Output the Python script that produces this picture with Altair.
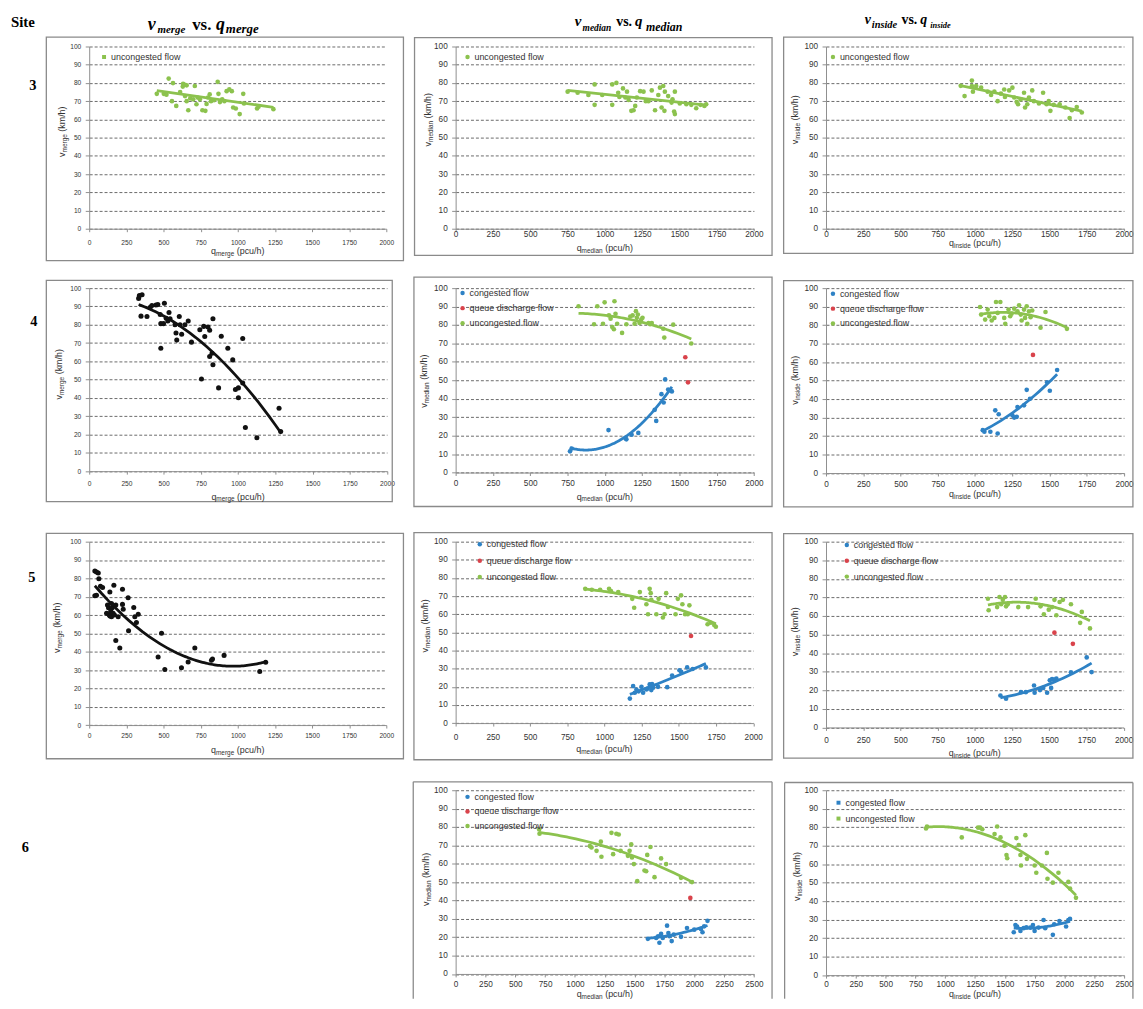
import altair as alt
import pandas as pd

# ---------------------------------------------------------------- data: (q [pcu/h], v [km/h])
S3_MERGE_UNCONGESTED = [(455,74),(502,74),(520,73.5),(535,82.4),(557,70),(564,79.9),(586,67.4),(612,75),(630,78),(632,79.5),(645,79),(656,78.7),(645,72.8),(656,70),(667,65),(680,71.5),(700,71),(711,78.3),(722,68.3),(730,72),(745,71),(762,65),(782,64.7),(790,68.5),(800,72),(811,73.7),(820,70),(840,70.5),(865,80.6),(870,74),(880,69.5),(895,71),(910,70),(925,75.5),(943,76.5),(960,75.5),(969,66.5),(987,66),(1013,62.9),(1037,74),(1042,68.7),(1130,66),(1140,67),(1240,65.6)]
S3_MEDIAN_UNCONGESTED = [(751,75.2),(818,74.6),(890,73.4),(932,79.2),(932,68),(983,73.4),(1050,79.2),(1050,68),(1078,80),(1090,74.6),(1098,72.3),(1122,77),(1138,72),(1149,75.2),(1160,70.7),(1178,64.7),(1193,65),(1204,67.4),(1215,72),(1237,75.5),(1260,75.2),(1275,70),(1293,70),(1315,75.9),(1337,65),(1359,73.4),(1370,77.4),(1392,78.3),(1403,75.2),(1381,66.5),(1400,64.7),(1425,72.8),(1448,69.2),(1454,71),(1470,75.2),(1465,64.3),(1470,62.9),(1503,68.7),(1547,68.3),(1580,68),(1613,66.1),(1642,68),(1668,67.4),(1680,68.3)]
S3_INSIDE_UNCONGESTED = [(904,78.4),(930,72.8),(979,81.3),(979,78.3),(986,75.2),(1008,78.3),(1041,77.4),(1085,75.2),(1108,73.4),(1130,75.2),(1152,70),(1174,74.1),(1196,76.4),(1201,72.3),(1229,75.9),(1251,77.4),(1263,72),(1280,69.6),(1289,68.3),(1307,71),(1329,74.6),(1336,66.5),(1351,68.3),(1362,72),(1384,75.9),(1395,70),(1429,68.7),(1457,74.6),(1480,68.3),(1495,70),(1506,64.7),(1528,68),(1568,68.3),(1606,66.5),(1635,60.7),(1650,65),(1683,66.8),(1717,63.8)]

S4_MERGE_ALL = [(332,94.4),(337,95.9),(355,96.4),(348,84.7),(388,84.5),(410,89.6),(421,90.5),(448,90.8),(461,91),(477,85.6),(481,80.6),(481,67.1),(499,80.6),(505,91.7),(517,83.6),(528,82),(536,86.7),(543,83.3),(576,80),(583,75.5),(588,71.6),(605,84.5),(610,80),(621,74.8),(643,80),(665,82),(687,70.5),(743,77.3),(754,50.4),(769,79.1),(776,73.6),(798,78.8),(809,77),(809,62.6),(825,64.4),(831,83.3),(831,58.1),(869,45.5),(887,73.7),(931,67.1),(964,60.8),(982,44.6),(1002,45.5),(1002,40.1),(1031,72.5),(1031,48.2),(1049,23.9),(1126,18.2),(1275,34.4),(1286,21.6)]
S4_MEDIAN_CONGESTED = [(767,11.5),(778,13),(1025,23),(1140,18.5),(1145,18),(1180,20.5),(1225,21.5),(1335,34),(1345,28),(1380,42.5),(1395,38),(1405,50.5),(1425,45),(1440,44.5),(1450,44)]
S4_MEDIAN_QUEUE = [(1540,62.5),(1558,48.9)]
S4_MEDIAN_UNCONGESTED = [(824,90.2),(928,80.4),(950,90.2),(988,80.7),(999,92.3),(1028,85.2),(1039,83.4),(1050,78.9),(1061,77.7),(1065,92.9),(1072,86.1),(1083,80.7),(1116,75.7),(1145,80.4),(1171,84.6),(1187,85.2),(1200,80.7),(1209,87.5),(1215,83.9),(1222,85.7),(1233,81.1),(1244,82.9),(1253,83.9),(1293,81.1),(1304,80.4),(1315,81.1),(1392,78),(1399,73.2),(1459,80.2),(1580,70)]
S4_INSIDE_CONGESTED = [(1052,23.2),(1063,22.3),(1103,22.3),(1136,33.9),(1152,21.4),(1159,31.8),(1251,31.2),(1263,30),(1280,30.4),(1285,35.7),(1329,36.6),(1347,45),(1369,40.2),(1484,49.1),(1502,44.5),(1551,55.7)]
S4_INSIDE_QUEUE = [(1389,63.9)]
S4_INSIDE_UNCONGESTED = [(1034,89.8),(1041,85.7),(1068,83),(1085,88.4),(1096,84.8),(1112,82.5),(1130,83.9),(1141,92.5),(1170,92.5),(1152,86.6),(1196,83.9),(1203,80.7),(1225,88.4),(1236,84.8),(1245,86.1),(1263,88.9),(1285,87.5),(1296,90.7),(1307,85.7),(1313,82.5),(1329,88.4),(1336,83.9),(1347,90.2),(1351,80.7),(1362,87.5),(1373,84.3),(1384,87.9),(1440,78.6),(1473,87.1),(1617,78)]

S5_MERGE_ALL = [(38,84),(49,83.4),(38,70.5),(49,70.8),(61,82.9),(65,79.8),(76,75.7),(90,75),(117,60.9),(123,65.4),(130,64),(135,60),(139,72.6),(140,59.5),(145,62),(150,66.3),(150,59.1),(155,64),(161,60.9),(166,76.2),(170,60),(179,65.4),(179,46.1),(195,59.1),(206,42),(224,74.1),(224,65.8),(229,63.1),(262,69.4),(265,51.4),(300,64.1),(307,59.1),(318,55.9),(330,60.4),(464,37.1),(487,50.1),(509,30.3),(621,31.2),(666,34.4),(711,42),(823,35.3),(830,36),(908,38),(1148,29.2),(1188,34.2)]
S5_MEDIAN_CONGESTED = [(1171,13.5),(1193,20.4),(1204,16.7),(1215,18.5),(1230,17.5),(1249,20),(1260,16.7),(1282,18.5),(1290,19),(1304,21.3),(1315,18.2),(1320,21.5),(1327,19.5),(1360,20),(1422,19.8),(1455,26.2),(1504,29.1),(1516,28.2),(1556,30.7),(1593,29.8),(1682,30.7)]
S5_MEDIAN_QUEUE = [(1582,48)]
S5_MEDIAN_UNCONGESTED = [(871,74),(915,73.5),(971,73.5),(1031,74),(1044,72.7),(1093,72.2),(1187,68.5),(1200,63.6),(1238,72.2),(1282,65.5),(1293,60),(1304,74),(1311,71.6),(1315,68),(1349,60),(1364,68.5),(1393,58.2),(1404,60),(1415,71.6),(1427,64),(1478,60),(1493,68.5),(1515,70.4),(1524,65.5),(1542,60),(1560,60),(1571,64.9),(1693,54.5),(1715,55.3),(1738,54),(1749,53.1)]
S5_INSIDE_CONGESTED = [(1172,17.2),(1210,15.5),(1310,19),(1343,19),(1398,22.6),(1402,18.7),(1438,20.1),(1460,21.3),(1486,18.7),(1504,25.4),(1513,21.3),(1519,26.1),(1535,25.8),(1548,26.3),(1646,29.7),(1752,37.7),(1785,29.8)]
S5_INSIDE_QUEUE = [(1535,51),(1659,45)]
S5_INSIDE_UNCONGESTED = [(1088,69.3),(1093,63.1),(1150,64.8),(1166,70.2),(1177,66.3),(1188,68.7),(1203,70.2),(1210,65.2),(1221,66.3),(1292,64.8),(1358,64.8),(1409,69.3),(1442,65.2),(1464,60.9),(1497,63.4),(1519,64.8),(1535,68.7),(1548,60.4),(1570,67.5),(1592,68.7),(1646,66.3),(1708,56.3),(1719,62.2),(1774,53.3)]

S6_MEDIAN_CONGESTED = [(1611,19.1),(1681,19.6),(1697,20.5),(1708,17),(1722,21.8),(1736,19.6),(1772,26.3),(1783,22.3),(1792,20.5),(1811,17.9),(1828,21.4),(1889,20.2),(1939,25),(2000,24.1),(2056,24.5),(2069,22.7),(2083,25.9),(2111,28.9)]
S6_MEDIAN_QUEUE = [(1967,41.4)]
S6_MEDIAN_UNCONGESTED = [(700,78.6),(703,76.3),(1125,69.6),(1139,68.8),(1181,67),(1217,72),(1222,63.8),(1306,76.8),(1320,65.2),(1347,76.3),(1367,75.9),(1383,67),(1444,64.3),(1458,67),(1472,70.5),(1478,63.4),(1494,59.8),(1522,50.5),(1583,56.3),(1597,55.9),(1606,64.8),(1633,69.1),(1667,52.7),(1722,62.9),(1764,59.8),(1889,52.3),(1981,50)]
S6_INSIDE_CONGESTED = [(1575,23.2),(1589,27.1),(1603,26.3),(1631,23.9),(1658,25.4),(1681,25.9),(1714,25.7),(1736,27.1),(1750,23.9),(1783,25.7),(1825,29.8),(1839,25.4),(1903,21.8),(1914,27.5),(1958,29.3),(2014,26.3),(2033,29.8),(2047,30.4)]
S6_INSIDE_UNCONGESTED = [(839,79.3),(847,80.4),(1139,74.5),(1275,79.8),(1292,79.8),(1311,78.9),(1414,76.3),(1436,80.4),(1464,74.5),(1497,70),(1514,65),(1520,63.2),(1597,74.1),(1617,70.4),(1631,65),(1636,59.3),(1672,75.7),(1686,62.9),(1750,59.3),(1764,55.4),(1811,59.3),(1853,66.1),(1858,52.1),(1903,50),(1950,55.4),(2033,50.4),(2047,46.8),(2097,41.8)]

CON, QD, UNC = "congested flow", "queue discharge flow", "uncongested flow"
SITES = ["3", "4", "5", "6"]
COLUMN_SUBS = ["merge", "median", "inside"]

# ---------------------------------------------------------------- styles / layout
GREEN, BLUE, RED, BLACK = "#8cc24e", "#2e82c5", "#d9434b", "#111111"
FLOW_COLOR = {CON: BLUE, QD: RED, UNC: GREEN}
SANS, SERIF = "Liberation Sans", "Liberation Serif"
AXC, GRID, LBL, FRAME = "#8f8f8f", "#6a6a6a", "#333333", "#8a8a8a"
ONE = pd.DataFrame({"k": [0]})

CW = {' ': .278, '(': .333, ')': .333, '/': .278, 'a': .556, 'c': .5, 'd': .556, 'e': .556,
      'g': .556, 'h': .556, 'i': .222, 'k': .5, 'm': .833, 'n': .556, 'p': .556, 'q': .556,
      'r': .333, 's': .5, 'u': .556, 'v': .5}


def tw(s, size):
    return sum(CW.get(ch, .55) for ch in s) * size


# cells tile the page (page px); the chart padding of -8 puts page px == cell px
CELL_X = [0, 411.5, 783.5, 1143]
CELL_Y = [0, 266, 518, 770, 1000]
COL_LEFT = [90, 458.8, 831.8]          # plot-area left edge of every column (page px)
ROW_TOP = [41.7, 284.5, 539.1, 789.5]  # plot-area top edge of every row (page px)

PANELS = [
    dict(row=0, col=0, xmax=2000, method="linear", series=[(UNC, S3_MERGE_UNCONGESTED)],
         w=300, h=184, frame=(46.7, 32.3, 407.3, 258), fs=6.7, xtick=3, xpad=7.8,
         ty=22.7, tx=-27, cy=86, legend=(13, 10.6, 14, "square")),
    dict(row=0, col=1, xmax=2000, method="linear", series=[(UNC, S3_MEDIAN_UNCONGESTED)],
         w=301.2, h=184, frame=(417.3, 32.7, 778.3, 252.7), fs=8.3, xtick=2, xpad=-1.3,
         ty=19.3, tx=-28.3, cy=74, legend=(10, 10.6, 14, "circle")),
    dict(row=0, col=2, xmax=2000, method="linear", series=[(UNC, S3_INSIDE_UNCONGESTED)],
         w=300.9, h=184, frame=(789, 32.3, 1141.7, 250.7), fs=8.3, xtick=2, xpad=-1.3,
         ty=14.5, tx=-31.7, cy=74, legend=(5, 10.6, 14, "circle")),
    dict(row=1, col=0, xmax=2000, method="poly", series=[("all", S4_MERGE_ALL)], black=True,
         w=300.7, h=184.8, frame=(46.7, 276.7, 396, 500), fs=6.7, xtick=3, xpad=6.4,
         ty=25.7, tx=-30, cy=87),
    dict(row=1, col=1, xmax=2000, method="poly",
         series=[(CON, S4_MEDIAN_CONGESTED), (QD, S4_MEDIAN_QUEUE), (UNC, S4_MEDIAN_UNCONGESTED)],
         w=301.2, h=186.2, frame=(416.7, 273.3, 778.3, 505), fs=8.3, xtick=3, xpad=3.4,
         ty=24.3, tx=-31.7, cy=94, legend=(5, 5, 14.2, "circle")),
    dict(row=1, col=2, xmax=2000, method="poly",
         series=[(CON, S4_INSIDE_CONGESTED), (QD, S4_INSIDE_QUEUE), (UNC, S4_INSIDE_UNCONGESTED)],
         w=300.9, h=186.7, frame=(789, 277, 1141.7, 505.3), fs=8.3, xtick=3, xpad=4.1,
         ty=21.7, tx=-31.7, cy=93, legend=(5, 5.7, 14, "circle")),
    dict(row=2, col=0, xmax=2000, method="poly", series=[("all", S5_MERGE_ALL)], black=True,
         w=300, h=185.2, frame=(46.7, 530.7, 407.3, 758.3), fs=6.7, xtick=3, xpad=4.8,
         ty=25.7, tx=-32.7, cy=87),
    dict(row=2, col=1, xmax=2000, method="poly",
         series=[(CON, S5_MEDIAN_CONGESTED), (QD, S5_MEDIAN_QUEUE), (UNC, S5_MEDIAN_UNCONGESTED)],
         w=300.5, h=183.2, frame=(416.7, 530, 778.3, 759.3), fs=8.3, xtick=3, xpad=6.7,
         ty=26, tx=-31, cy=85, legend=(22.4, 2.7, 15.5, "circle")),
    dict(row=2, col=2, xmax=2000, method="poly",
         series=[(CON, S5_INSIDE_CONGESTED), (QD, S5_INSIDE_QUEUE), (UNC, S5_INSIDE_UNCONGESTED)],
         w=300.5, h=187.6, frame=(789, 531, 1141.7, 757.7), fs=8.3, xtick=3, xpad=5.1,
         ty=25.7, tx=-31, cy=91, legend=(19, 3.3, 15, "circle")),
    dict(row=3, col=0, series=None, w=300, h=186, frame=None),
    dict(row=3, col=1, xmax=2500, method="poly",
         series=[(CON, S6_MEDIAN_CONGESTED), (QD, S6_MEDIAN_QUEUE), (UNC, S6_MEDIAN_UNCONGESTED)],
         w=301.2, h=185.5, frame=(416, 781, 778.3, None), fs=8.3, xtick=3, xpad=2.2,
         ty=20.5, tx=-30, cy=90, legend=(10, 6.7, 13.7, "circle")),
    dict(row=3, col=2, xmax=2500, method="poly",
         series=[(CON, S6_INSIDE_CONGESTED), (UNC, S6_INSIDE_UNCONGESTED)],
         w=300.9, h=186.7, frame=(790, 781.7, 1141.7, None), fs=8.3, xtick=3, xpad=1.2,
         ty=19.3, tx=-29.4, cy=87, legend=(10.6, 12.6, 15, "square")),
]

# header pieces (page px): text, x, baseline y, size, italic
HEADERS = {
    0: [("v", 149, 25, 18, True), ("merge", 159, 27.7, 11, True), ("vs.", 194, 25, 17, False),
        ("q", 218, 25, 18, True), ("merge", 228, 27.7, 13, True)],
    1: [("v", 579, 20.7, 15, True), ("median", 587, 26, 9.5, True), ("vs.", 621, 20.7, 14, False),
        ("q", 640, 20.7, 15, True), ("median", 651, 26, 12, True)],
    2: [("v", 871, 19, 14, True), ("inside", 878, 23.3, 10.5, True), ("vs.", 908, 19, 14, False),
        ("q", 927, 19, 14, True), ("inside", 937, 23.3, 8.5, True)],
}
SITE_POS = (11, 22)
ROW_LABEL_POS = [(33, 86), (34, 323), (32, 580), (25.5, 852)]


def piece(text, x, y, size, font=SANS, weight="normal", style="normal", angle=0,
          color=LBL, align="left"):
    kw = dict(text=text, fontSize=size, font=font, fontWeight=weight, fontStyle=style,
              align=align, baseline="alphabetic", color=color)
    if angle:
        kw["angle"] = angle
    return alt.Chart(ONE).mark_text(**kw).encode(x=alt.value(x), y=alt.value(y))


def xtitle(w, h, sub, ty):
    m, s = 9, 6.5
    rest = "(pcu/h)"
    W = tw("q", m) + tw(sub, s) + tw(" ", m) + tw(rest, m)
    x0 = w / 2 - W / 2
    yb = h + ty + 3
    return [piece("q", x0, yb, m),
            piece(sub, x0 + tw("q", m), yb + 1.8, s),
            piece(rest, x0 + tw("q", m) + tw(sub, s) + tw(" ", m), yb, m)]


def ytitle(sub, tx, cy):
    m, s = 9, 6.5
    rest = "(km/h)"
    W = tw("v", m) + tw(sub, s) + tw(" ", m) + tw(rest, m)
    y0 = cy + W / 2
    xb = tx + 3
    return [piece("v", xb, y0, m, angle=270),
            piece(sub, xb + 2, y0 - tw("v", m), s, angle=270),
            piece(rest, xb, y0 - tw("v", m) - tw(sub, s) - tw(" ", m), m, angle=270)]


def build_panel(p):
    r, c = p["row"], p["col"]
    px0, py0 = COL_LEFT[c], ROW_TOP[r]
    w, h = p["w"], p["h"]
    cx0, cx1 = CELL_X[c], CELL_X[c + 1]
    cy0, cy1 = CELL_Y[r], CELL_Y[r + 1]
    layers = [alt.Chart(ONE).mark_rect(opacity=0).encode(
        x=alt.value(cx0 - px0), x2=alt.value(cx1 - px0),
        y=alt.value(cy0 - py0), y2=alt.value(cy1 - py0))]

    fr = p.get("frame")
    if fr:
        fx0, fy0, fx1, fy1 = fr
        if fy1 is not None:
            layers.append(alt.Chart(ONE).mark_rect(filled=False, color=FRAME, strokeWidth=1.3).encode(
                x=alt.value(fx0 - px0), x2=alt.value(fx1 - px0),
                y=alt.value(fy0 - py0), y2=alt.value(fy1 - py0)))
        else:
            bottom = cy1 - py0
            for xx in (fx0, fx1):
                layers.append(alt.Chart(ONE).mark_rule(color=FRAME, strokeWidth=1.3).encode(
                    x=alt.value(xx - px0), y=alt.value(fy0 - py0), y2=alt.value(bottom)))
            layers.append(alt.Chart(ONE).mark_rule(color=FRAME, strokeWidth=1.3).encode(
                x=alt.value(fx0 - px0), x2=alt.value(fx1 - px0), y=alt.value(fy0 - py0)))

    if p.get("series"):
        sub = COLUMN_SUBS[c]
        xmax = p["xmax"]
        rows = []
        for name, pts in p["series"]:
            for q, v in pts:
                rows.append({"q": q, "v": v, "flow": name})
        df = pd.DataFrame(rows)
        xs = alt.Scale(domain=[0, xmax], nice=False, zero=False)
        ys = alt.Scale(domain=[0, 100], nice=False)
        xax = alt.Axis(values=list(range(0, xmax + 1, 250)), format="d", title=None, grid=False,
                       domainColor=AXC, domainWidth=1, tickColor=AXC, tickSize=p["xtick"],
                       labelFontSize=p["fs"], labelFont=SANS, labelColor=LBL,
                       labelPadding=p["xpad"], labelFlush=False, labelOverlap=False)
        yax = alt.Axis(values=list(range(0, 101, 10)), format="d", title=None, grid=True,
                       gridColor=GRID, gridDash=[3, 2], gridWidth=1, domainColor=AXC,
                       domainWidth=1, tickColor=AXC, tickSize=4, labelFontSize=p["fs"],
                       labelFont=SANS, labelColor=LBL, labelPadding=4.5,
                       labelFlush=False, labelOverlap=False)
        X = alt.X("q:Q", scale=xs, axis=xax)
        Y = alt.Y("v:Q", scale=ys, axis=yax)
        if p.get("black"):
            color = alt.value(BLACK)
            size = 26
        else:
            names = [n for n, _ in p["series"]]
            lx, ly, step, sym = p["legend"]
            color = alt.Color(
                "flow:N", sort=names,
                scale=alt.Scale(domain=names, range=[FLOW_COLOR[n] for n in names]),
                legend=alt.Legend(orient="none", legendX=lx - 2.5, legendY=ly - 4.5, title=None,
                                  padding=0, symbolType=sym, symbolSize=20 if sym == "circle" else 16,
                                  symbolStrokeWidth=0, labelFontSize=9, labelFont=SANS,
                                  labelColor=LBL, rowPadding=step - 9, labelOffset=2.5))
            size = 22
        layers.append(alt.Chart(df).mark_point(filled=True, size=size, opacity=1).encode(
            x=X, y=Y, color=color))
        for name, pts in p["series"]:
            if name == QD:
                continue
            sdf = pd.DataFrame({"q": [a for a, _ in pts], "v": [b for _, b in pts]})
            base = alt.Chart(sdf)
            if p["method"] == "linear":
                base = base.transform_regression("q", "v", method="linear")
            else:
                base = base.transform_regression("q", "v", method="poly", order=2)
            lc = BLACK if p.get("black") else FLOW_COLOR[name]
            layers.append(base.mark_line(color=lc, strokeWidth=2.8).encode(x=X, y=Y))
        layers += xtitle(w, h, sub, p["ty"])
        layers += ytitle(sub, p["tx"], p["cy"])

    if r == 0:
        for text, x, y, size, ital in HEADERS[c]:
            layers.append(piece(text, x - px0, y - py0, size, font=SERIF, weight="bold",
                                style="italic" if ital else "normal", color="#000000"))
        if c == 0:
            layers.append(piece("Site", SITE_POS[0] - px0, SITE_POS[1] - py0, 15, font=SERIF,
                                weight="bold", color="#000000"))
    if c == 0:
        lx, ly = ROW_LABEL_POS[r]
        layers.append(piece(SITES[r], lx - px0, ly - py0, 14.5, font=SERIF, weight="bold",
                            color="#000000", align="center"))

    return alt.layer(*layers).properties(width=w, height=h)


rows = []
for r in range(4):
    charts = [build_panel(p) for p in sorted([q for q in PANELS if q["row"] == r], key=lambda d: d["col"])]
    rows.append(alt.hconcat(*charts, spacing=0)
                .resolve_scale(color="independent", x="independent", y="independent")
                .resolve_legend(color="independent"))

chart = (alt.vconcat(*rows, spacing=0)
         .resolve_scale(color="independent", x="independent", y="independent")
         .resolve_legend(color="independent")
         .properties(padding={"left": -8, "top": -8, "right": 0, "bottom": 0}, background="white")
         .configure_view(strokeWidth=0))

chart.save("out.html", embed_options={"renderer": "svg", "actions": False})
